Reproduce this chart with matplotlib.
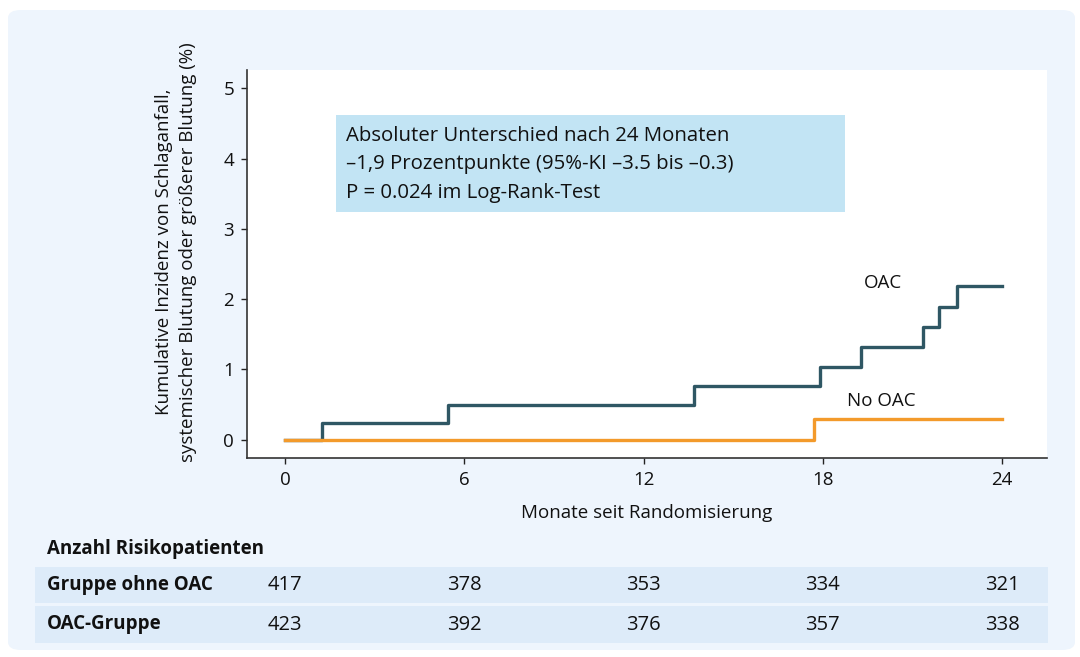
import matplotlib

matplotlib.use("Agg")
import matplotlib.pyplot as plt
from matplotlib.patches import FancyBboxPatch, Rectangle
from matplotlib.transforms import blended_transform_factory

plt.rcParams["font.family"] = ["Open Sans", "DejaVu Sans"]

W, H = 1080, 657

# Kaplan-Meier style cumulative incidence (%)
oac_months = [0, 1.24, 5.47, 13.7, 17.9, 19.26, 21.34, 21.9, 22.5, 24]
oac_values = [0, 0.24, 0.50, 0.77, 1.04, 1.32, 1.60, 1.89, 2.19, 2.19]
no_oac_months = [0, 17.7, 24]
no_oac_values = [0, 0.30, 0.30]

x_ticks = [0, 6, 12, 18, 24]
y_ticks = [0, 1, 2, 3, 4, 5]

# patients at risk
risk_groups = ["Gruppe ohne OAC", "OAC-Gruppe"]
risk_no_oac = [417, 378, 353, 334, 321]
risk_oac = [423, 392, 376, 357, 338]

annotation_lines = [
    "Absoluter Unterschied nach 24 Monaten",
    "\u20131,9 Prozentpunkte (95%-KI \u20133.5 bis \u20130.3)",
    "P = 0.024 im Log-Rank-Test",
]

OAC_COLOR = "#2f5764"
NO_OAC_COLOR = "#f39a2b"
PANEL = "#eef5fd"
BAND = "#ddebf9"
BOX = "#c2e4f4"


def fx(px):
    return px / W


def fy(py):
    return 1 - py / H


fig = plt.figure(figsize=(W / 100, H / 100), dpi=100)
fig.patch.set_facecolor("white")

fig.patches.append(
    FancyBboxPatch(
        (fx(8), fy(650)), fx(1067), 640 / H,
        boxstyle="round,pad=0,rounding_size=0.012",
        transform=fig.transFigure, facecolor=PANEL, edgecolor="none", zorder=-1,
    )
)

ax = fig.add_axes([fx(247), fy(458), fx(800), (458 - 70) / H])
ax.set_zorder(1)
ax.set_facecolor("white")
ax.set_xlim(-1.27, 25.5)
ax.set_ylim(-0.26, 5.26)

ax.step(oac_months, oac_values, where="post", color=OAC_COLOR, lw=2.4, zorder=3)
ax.step(no_oac_months, no_oac_values, where="post", color=NO_OAC_COLOR, lw=2.4, zorder=4)

ax.text(20.0, 2.23, "OAC", fontsize=13.5, ha="center", va="center", color="#111111")
ax.text(19.95, 0.55, "No OAC", fontsize=13.5, ha="center", va="center", color="#111111")

ax.set_xticks(x_ticks)
ax.set_yticks(y_ticks)
ax.tick_params(axis="both", direction="out", length=4.3, width=1, labelsize=13.5,
               colors="#222222", labelcolor="#111111")
ax.tick_params(axis="x", pad=5)
ax.tick_params(axis="y", pad=5)
for side in ("top", "right"):
    ax.spines[side].set_visible(False)
for side in ("left", "bottom"):
    ax.spines[side].set_color("#333333")
    ax.spines[side].set_linewidth(1.2)

ax.set_xlabel("Monate seit Randomisierung", fontsize=13.5, color="#111111", labelpad=11)
fig.text(fx(176), fy(252),
         "Kumulative Inzidenz von Schlaganfall,\nsystemischer Blutung oder größerer Blutung (%)",
         rotation=90, ha="center", va="center", fontsize=13.5, color="#111111",
         linespacing=1.45)

# annotation box with the summary statistics
ax.add_patch(
    Rectangle((fx(336), fy(212)), fx(509), 97 / H, transform=fig.transFigure,
              facecolor=BOX, edgecolor="none", zorder=5)
)
for i, line in enumerate(annotation_lines):
    ax.text(fx(346), fy(136 + 28.5 * i), line, transform=fig.transFigure,
            fontsize=14.7, ha="left", va="center", color="#111111", zorder=6)

# number-at-risk table
fig.text(fx(47), fy(549), "Anzahl Risikopatienten", fontsize=13.5,
         fontweight="bold", ha="left", va="center", color="#111111")
row_spans = [(567, 603), (606, 643)]
row_counts = [risk_no_oac, risk_oac]
trans = blended_transform_factory(ax.transData, fig.transFigure)
for (top, bottom), label, counts in zip(row_spans, risk_groups, row_counts):
    fig.patches.append(
        Rectangle((fx(35), fy(bottom)), fx(1013), (bottom - top) / H,
                  transform=fig.transFigure, facecolor=BAND, edgecolor="none", zorder=0)
    )
    yc = fy((top + bottom) / 2)
    fig.text(fx(47), yc, label, fontsize=13.5, fontweight="bold", ha="left",
             va="center", color="#111111")
    for m, n in zip(x_ticks, counts):
        fig.text(m, yc, str(n), transform=trans, fontsize=14.5, ha="center",
                 va="center", color="#111111")

fig.savefig("out.png", dpi=100)
